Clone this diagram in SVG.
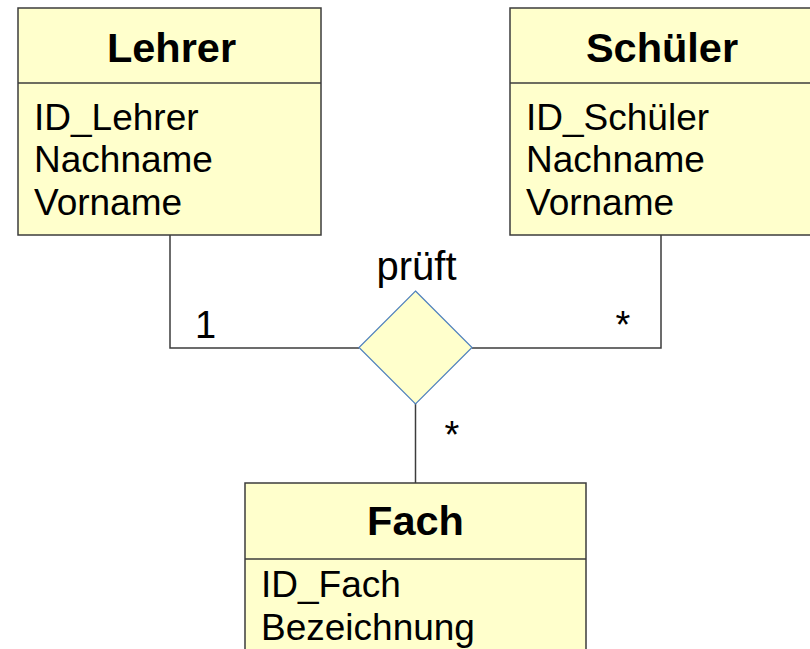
<svg xmlns="http://www.w3.org/2000/svg" width="810" height="649" viewBox="0 0 810 649">
<style>
.box{fill:#ffffcc;stroke:#3c3c3c;stroke-width:1.5}
.div{stroke:#3c3c3c;stroke-width:1.5}
.title{font-family:"Liberation Sans",Arial,sans-serif;font-weight:bold;font-size:41.5px;fill:#000;text-anchor:middle}
.attr{font-family:"Liberation Sans",Arial,sans-serif;font-size:37px;fill:#000}
.lbl{font-family:"Liberation Sans",Arial,sans-serif;font-size:38px;fill:#000}
.conn{fill:none;stroke:#3c3c3c;stroke-width:1.5}
.rel{fill:#ffffcc;stroke:#4f81bd;stroke-width:1.2}
</style>
<rect width="810" height="649" fill="#ffffff"/>
<g id="connectors">
<polyline class="conn" points="170,235 170,348 359,348"/>
<polyline class="conn" points="661,235 661,348 472,348"/>
<line class="conn" x1="415.5" y1="403" x2="415.5" y2="483"/>
</g>
<g id="lehrer">
<rect class="box" x="18" y="8" width="303" height="227"/>
<line class="div" x1="18" y1="83" x2="321" y2="83"/>
<text class="title" x="171.5" y="62">Lehrer</text>
<text class="attr" x="34" y="130">ID_Lehrer</text>
<text class="attr" x="34" y="172">Nachname</text>
<text class="attr" x="34" y="215">Vorname</text>
</g>
<g id="schueler">
<rect class="box" x="510" y="8" width="303" height="227"/>
<line class="div" x1="510" y1="83" x2="813" y2="83"/>
<text class="title" x="662" y="62">Schüler</text>
<text class="attr" x="526" y="130">ID_Schüler</text>
<text class="attr" x="526" y="172">Nachname</text>
<text class="attr" x="526" y="215">Vorname</text>
</g>
<g id="fach">
<rect class="box" x="245" y="483" width="341" height="180"/>
<line class="div" x1="245" y1="559" x2="586" y2="559"/>
<text class="title" x="415.5" y="535">Fach</text>
<text class="attr" x="261" y="597">ID_Fach</text>
<text class="attr" x="261" y="640">Bezeichnung</text>
</g>
<g id="prueft">
<polygon class="rel" points="415.5,291 472,347.5 415.5,404 359,347.5"/>
<text class="lbl" x="416.5" y="280" text-anchor="middle" style="font-size:40px">prüft</text>
</g>
<g id="labels">
<text class="lbl" x="195" y="338">1</text>
<text class="lbl" x="623" y="338" text-anchor="middle">*</text>
<text class="lbl" x="452" y="448" text-anchor="middle">*</text>
</g>
</svg>
